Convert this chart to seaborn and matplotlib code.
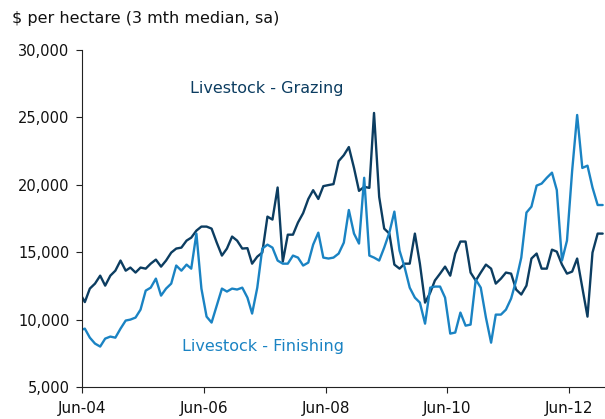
import numpy as np
import pandas as pd
import seaborn as sns
import matplotlib.pyplot as plt

# monthly values, May-04 .. Dec-12 ($ per hectare, 3 mth median, sa)
grazing = [12000, 11300, 12300, 12670, 13260, 12520, 13260, 13630, 14380, 13630,
           13860, 13490, 13860, 13780, 14150, 14450, 13930, 14380, 14970, 15270,
           15340, 15860, 16080, 16600, 16900, 16900, 16750, 15710, 14750, 15270,
           16160, 15860, 15270, 15300, 14150, 14670, 14970, 17640, 17420, 19800,
           14300, 16300, 16300, 17200, 17900, 18950, 19600, 18950, 19900, 19980,
           20050, 21760, 22200, 22800, 21250, 19550, 19850, 19770, 25330, 19100,
           16750, 16380, 14080, 13780, 14150, 14150, 16380, 14150, 11260, 12000,
           12900, 13410, 13930, 13260, 14900, 15790, 15790, 13490, 12890, 13490,
           14080, 13780, 12670, 13040, 13490, 13410, 12230, 11860, 12520, 14530,
           14900, 13780, 13780, 15190, 15040, 14080, 13410, 13560, 14530, 12370,
           10220, 14970, 16380, 16380]
finishing = [9200, 9330, 8660, 8220, 8000, 8590, 8740, 8660, 9330, 9930,
             10000, 10150, 10740, 12150, 12370, 13040, 11780, 12300, 12670, 14010,
             13630, 14080, 13780, 16380, 12300, 10220, 9780, 11040, 12300, 12080,
             12300, 12230, 12370, 11630, 10450, 12370, 15270, 15560, 15340, 14380,
             14150, 14150, 14750, 14600, 14010, 14230, 15560, 16450, 14600, 14530,
             14600, 14900, 15710, 18130, 16380, 15640, 20520, 14750, 14600, 14380,
             15340, 16450, 18010, 15120, 13860, 12370, 11630, 11260, 9700, 12370,
             12450, 12450, 11630, 8960, 9040, 10520, 9550, 9630, 12970, 12370,
             10150, 8290, 10370, 10370, 10740, 11560, 12890, 14600, 17940, 18380,
             19940, 20090, 20520, 20900, 19610, 14380, 15860, 21040, 25180, 21250,
             21420, 19800, 18500, 18500]
tick_dates = ["2004-06-01", "2006-06-01", "2008-06-01", "2010-06-01", "2012-06-01"]
tick_labels = ["Jun-04", "Jun-06", "Jun-08", "Jun-10", "Jun-12"]

dates = pd.date_range("2004-05-01", periods=len(grazing), freq="MS") + pd.Timedelta(days=17)
df = pd.DataFrame({"date": dates, "Grazing": grazing, "Finishing": finishing})

dark = "#0c3d61"
light = "#1a83c3"

sns.set_style("white")
plt.rcParams["font.family"] = ["DejaVu Sans"]

fig = plt.figure(figsize=(6.05, 4.19), dpi=100)
ax = fig.add_axes([82 / 605, 32 / 419, 523 / 605, 337 / 419])

sns.lineplot(x="date", y="Grazing", data=df, color=dark, linewidth=1.7, ax=ax)
sns.lineplot(x="date", y="Finishing", data=df, color=light, linewidth=1.7, ax=ax)

ax.set_ylim(5000, 30000)
ax.set_yticks(range(5000, 30001, 5000))
ax.set_yticklabels([f"{v:,}" for v in range(5000, 30001, 5000)])
ax.set_xlim(pd.Timestamp("2004-06-01"), pd.Timestamp("2013-01-01"))
ax.set_xticks([pd.Timestamp(d) for d in tick_dates])
ax.set_xticklabels(tick_labels)
ax.set_xlabel("")
ax.set_ylabel("")

for s in ["top", "right"]:
    ax.spines[s].set_visible(False)
for s in ["left", "bottom"]:
    ax.spines[s].set_color("#222222")
    ax.spines[s].set_linewidth(0.8)
ax.tick_params(axis="both", direction="out", length=4, width=0.8, color="#222222",
               labelsize=10.5, labelcolor="#111111", left=True, bottom=True)
ax.tick_params(axis="y", pad=5)
ax.tick_params(axis="x", pad=6, labelsize=11)

ax.text(0.206, 0.887, "Livestock - Grazing", transform=ax.transAxes, color=dark,
        fontsize=11.5, va="center", ha="left")
ax.text(0.191, 0.119, "Livestock - Finishing", transform=ax.transAxes, color=light,
        fontsize=11.5, va="center", ha="left")

fig.text(12 / 605, 1 - 18 / 419, "$ per hectare (3 mth median, sa)", fontsize=11.5,
         color="#111111", va="center", ha="left")

fig.savefig("out.png", dpi=100)
